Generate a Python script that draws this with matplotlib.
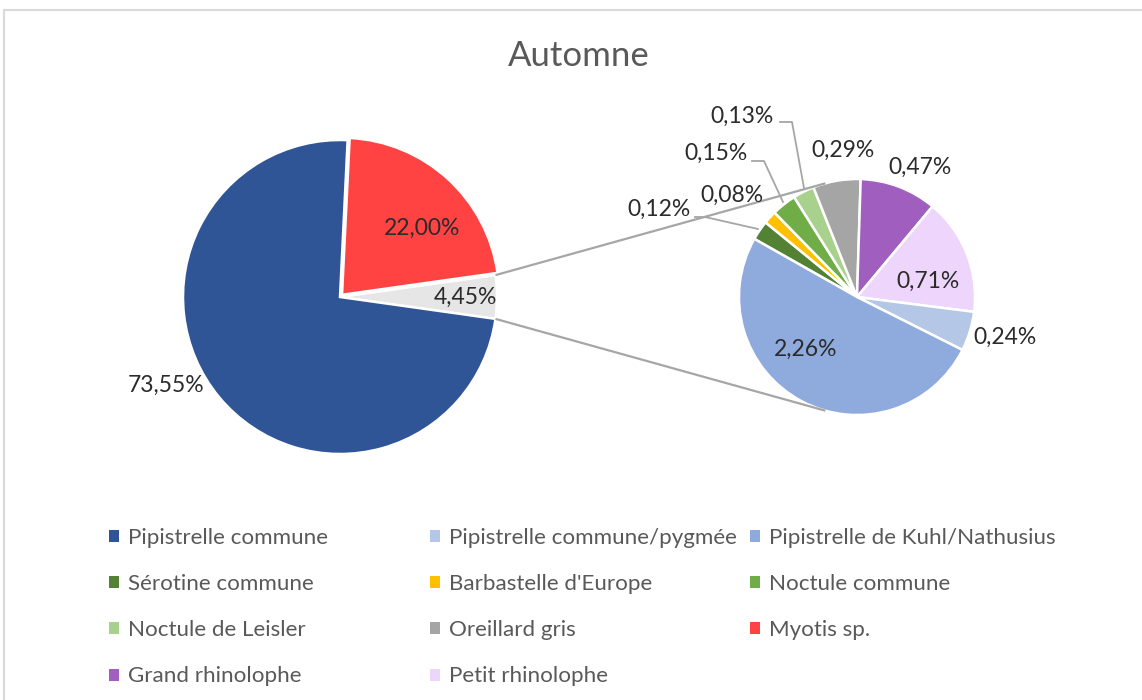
import numpy as np
import matplotlib.pyplot as plt
from matplotlib.patches import Patch, Rectangle

plt.rcParams['font.family'] = ['Lato', 'DejaVu Sans']

W, H = 1142, 700

# ---- data -------------------------------------------------------------
main_names = ['Autres espèces', 'Myotis sp.', 'Pipistrelle commune']
main_values = [4.45, 22.00, 73.55]

detail_names = ['Sérotine commune', "Barbastelle d'Europe", 'Noctule commune',
                'Noctule de Leisler', 'Oreillard gris', 'Grand rhinolophe',
                'Petit rhinolophe', 'Pipistrelle commune/pygmée',
                'Pipistrelle de Kuhl/Nathusius']
detail_values = [0.12, 0.08, 0.15, 0.13, 0.29, 0.47, 0.71, 0.24, 2.26]

legend_rows = [
    ['Pipistrelle commune', 'Pipistrelle commune/pygmée', 'Pipistrelle de Kuhl/Nathusius'],
    ['Sérotine commune', "Barbastelle d'Europe", 'Noctule commune'],
    ['Noctule de Leisler', 'Oreillard gris', 'Myotis sp.'],
    ['Grand rhinolophe', 'Petit rhinolophe'],
]

# ---- styles -----------------------------------------------------------
colors = {
    'Pipistrelle commune': '#2F5597',
    'Myotis sp.': '#FF4343',
    'Autres espèces': '#E7E6E6',
    'Sérotine commune': '#548235',
    "Barbastelle d'Europe": '#FFC000',
    'Noctule commune': '#70AD47',
    'Noctule de Leisler': '#A9D18E',
    'Oreillard gris': '#A5A5A5',
    'Grand rhinolophe': '#A05FBE',
    'Petit rhinolophe': '#EED5FB',
    'Pipistrelle commune/pygmée': '#B4C7E7',
    'Pipistrelle de Kuhl/Nathusius': '#8FAADC',
}

# label centres in pixel coordinates (x from left, y from top)
label_pos = {
    'Myotis sp.': (422, 228),
    'Autres espèces': (465, 297),
    'Pipistrelle commune': (166, 385),
    'Pipistrelle de Kuhl/Nathusius': (806, 349),
    'Petit rhinolophe': (928, 281),
    'Pipistrelle commune/pygmée': (1005, 337),
    'Grand rhinolophe': (920, 167),
    'Oreillard gris': (843, 150),
    'Noctule de Leisler': (742, 116),
    'Noctule commune': (716, 153),
    "Barbastelle d'Europe": (732, 195),
    'Sérotine commune': (659, 209),
}
leaders = {
    'Noctule de Leisler': [(780, 122), (792, 122), (804, 188)],
    'Noctule commune': [(752, 161), (764, 161), (783, 202)],
    'Sérotine commune': [(695, 217), (705, 217), (758, 229)],
}

MAIN_C, MAIN_R = (340, 297), 157
SUB_C, SUB_R = (857, 297), 118
TEXT_DARK = '#2B2B2B'
TEXT_GREY = '#595959'
LINE_GREY = '#A6A6A6'


def Y(py):
    return H - py


def fmt(v):
    return f"{v:.2f}".replace('.', ',') + '%'


fig = plt.figure(figsize=(W / 100, H / 100), dpi=100)
ax = fig.add_axes([0, 0, 1, 1])

# main pie: the grouped slice is centred on the right-hand side
start_main = -main_values[0] / sum(main_values) * 360 / 2
main_wedges, _ = ax.pie(main_values, colors=[colors[n] for n in main_names],
                        startangle=start_main, counterclock=True,
                        center=(MAIN_C[0], Y(MAIN_C[1])), radius=MAIN_R,
                        explode=[0, 3, 0],
                        wedgeprops=dict(edgecolor='white', linewidth=1.8))

# detail pie
sub_wedges, _ = ax.pie(detail_values, colors=[colors[n] for n in detail_names],
                       startangle=150.5, counterclock=False,
                       center=(SUB_C[0], Y(SUB_C[1])), radius=SUB_R,
                       wedgeprops=dict(edgecolor='white', linewidth=1.8))

# connector lines from the grouped slice to tangents of the detail pie
other = main_wedges[0]
cx, cy = MAIN_C[0], Y(MAIN_C[1])
sx, sy = SUB_C[0], Y(SUB_C[1])
for theta, sign in ((other.theta2, 1), (other.theta1, -1)):
    px = cx + MAIN_R * np.cos(np.radians(theta))
    py = cy + MAIN_R * np.sin(np.radians(theta))
    d = np.hypot(px - sx, py - sy)
    base = np.degrees(np.arctan2(py - sy, px - sx))
    tang = base - sign * np.degrees(np.arccos(SUB_R / d))
    tx = sx + SUB_R * np.cos(np.radians(tang))
    ty = sy + SUB_R * np.sin(np.radians(tang))
    ax.plot([px, tx], [py, ty], color=LINE_GREY, lw=1.6, solid_capstyle='butt')

# data labels
for name, val in list(zip(main_names, main_values)) + list(zip(detail_names, detail_values)):
    x, y = label_pos[name]
    ax.text(x, Y(y), fmt(val), ha='center', va='center', fontsize=16.5,
            color=TEXT_DARK)
for name, pts in leaders.items():
    ax.plot([p[0] for p in pts], [Y(p[1]) for p in pts], color=LINE_GREY,
            lw=1.3)

# title
ax.text(579, Y(56), 'Automne', ha='center', va='center', fontsize=25,
        color=TEXT_GREY)

# chart border
ax.add_patch(Rectangle((3.5, Y(1200)), 1400, 1190, fill=False,
                       edgecolor='#D9D9D9', lw=1.5))

ax.set_xlim(0, W)
ax.set_ylim(0, H)
ax.set_aspect('equal')
ax.axis('off')

# legend, one column at a time (entries read row by row)
col_x = [109, 430, 750]
for c, x in enumerate(col_x):
    names = [row[c] for row in legend_rows if len(row) > c]
    handles = [Patch(facecolor=colors[n], edgecolor='none') for n in names]
    fig.legend(handles, names, loc='upper left',
               bbox_to_anchor=(x / W, 1 - 528 / H), frameon=False,
               borderpad=0, borderaxespad=0, handlelength=0.45,
               handleheight=0.45, handletextpad=0.4, labelspacing=1.17,
               fontsize=16.1, labelcolor=TEXT_GREY)

fig.savefig('out.png', dpi=100)
